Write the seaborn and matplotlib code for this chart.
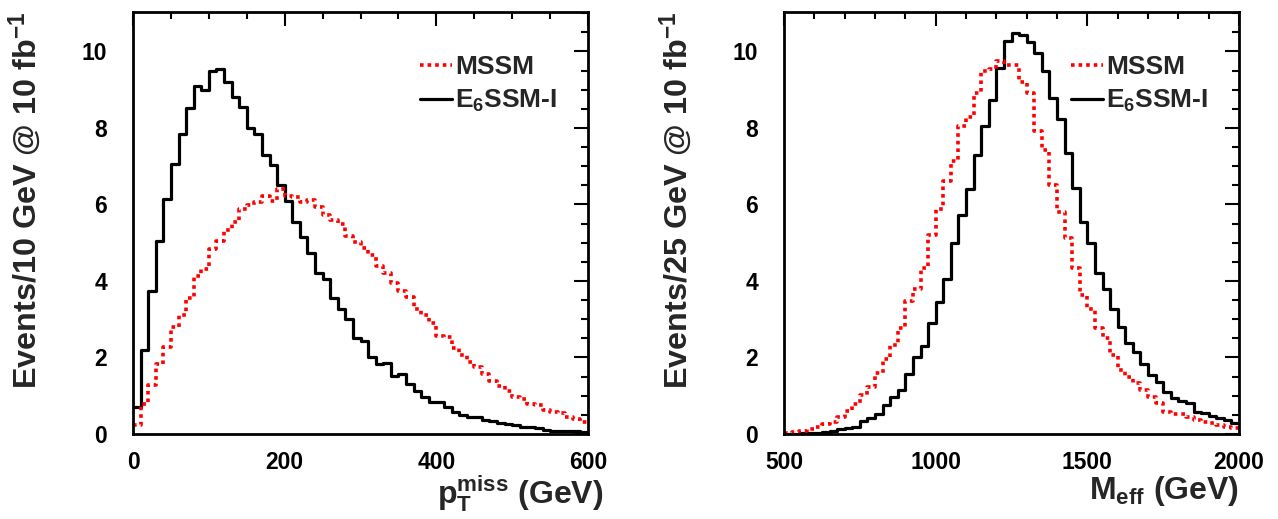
import numpy as np
import pandas as pd
import matplotlib
matplotlib.use("Agg")
import matplotlib.pyplot as plt
import seaborn as sns
from matplotlib.ticker import MultipleLocator

# ---------------- data ----------------
ptmiss_range = (0, 600)
ptmiss_binwidth = 10
ptmiss_e6ssm = [0.70, 2.20, 3.73, 5.05, 6.15, 7.07, 7.85, 8.52, 9.10, 8.98,
                9.49, 9.55, 9.20, 8.81, 8.56, 8.00, 7.85, 7.30, 7.03, 6.52,
                6.08, 5.53, 5.14, 4.72, 4.22, 4.04, 3.55, 3.26, 3.01, 2.50,
                2.43, 2.02, 1.83, 1.85, 1.52, 1.57, 1.31, 1.13, 0.96, 0.84,
                0.84, 0.71, 0.58, 0.50, 0.44, 0.45, 0.37, 0.33, 0.29, 0.26,
                0.23, 0.19, 0.17, 0.15, 0.10, 0.09, 0.08, 0.09, 0.08, 0.06]
ptmiss_mssm = [0.23, 0.78, 1.28, 1.82, 2.28, 2.79, 3.12, 3.56, 4.13, 4.31,
               4.83, 5.05, 5.33, 5.55, 5.89, 5.98, 6.07, 6.22, 6.08, 6.41,
               6.21, 6.20, 6.07, 6.11, 5.93, 5.72, 5.60, 5.48, 5.18, 5.02,
               4.85, 4.67, 4.39, 4.22, 3.95, 3.73, 3.58, 3.28, 3.11, 2.89,
               2.56, 2.54, 2.24, 2.06, 1.89, 1.76, 1.57, 1.38, 1.26, 1.13,
               0.97, 0.91, 0.78, 0.76, 0.63, 0.57, 0.54, 0.45, 0.39, 0.32]

meff_range = (500, 2000)
meff_binwidth = 25
meff_e6ssm = [0.01, 0.01, 0.02, 0.02, 0.03, 0.05, 0.08, 0.12, 0.15, 0.19,
              0.34, 0.41, 0.52, 0.77, 0.97, 1.15, 1.57, 2.02, 2.30, 2.91,
              3.46, 4.04, 4.99, 5.72, 6.40, 7.28, 8.05, 8.72, 9.56, 10.26,
              10.47, 10.42, 10.24, 9.96, 9.48, 8.77, 8.24, 7.35, 6.43, 5.54,
              5.00, 4.22, 3.79, 3.28, 2.80, 2.37, 2.15, 1.82, 1.54, 1.35,
              1.10, 0.93, 0.86, 0.80, 0.58, 0.54, 0.47, 0.41, 0.37, 0.30]
meff_mssm = [0.03, 0.06, 0.09, 0.12, 0.18, 0.25, 0.32, 0.45, 0.60, 0.78,
             1.02, 1.24, 1.60, 1.95, 2.32, 2.76, 3.47, 3.80, 4.34, 5.20,
             5.87, 6.61, 7.14, 8.04, 8.28, 8.92, 9.48, 9.55, 9.76, 9.65,
             9.65, 9.20, 8.91, 7.91, 7.43, 6.50, 5.80, 5.11, 4.33, 3.63,
             3.28, 2.76, 2.50, 2.06, 1.67, 1.50, 1.32, 1.15, 0.97, 0.80,
             0.58, 0.52, 0.51, 0.45, 0.37, 0.32, 0.30, 0.24, 0.19, 0.15]

labels = ["MSSM", "E$_{6}$SSM-I"]
ylabels = ["Events/10 GeV @ 10 fb$^{-1}$", "Events/25 GeV @ 10 fb$^{-1}$"]
xlabels = [r"$\mathbf{p_{T}^{miss}}$ (GeV)", r"$\mathbf{M_{eff}}$ (GeV)"]

# ---------------- style ----------------
sns.set_theme(style="white")
plt.rcParams["font.family"] = ["Liberation Sans", "DejaVu Sans"]
plt.rcParams["font.weight"] = "bold"
plt.rcParams["mathtext.fontset"] = "custom"
plt.rcParams["mathtext.rm"] = "Liberation Sans:bold"
plt.rcParams["mathtext.it"] = "Liberation Sans:bold"
plt.rcParams["mathtext.bf"] = "Liberation Sans:bold"
plt.rcParams["mathtext.default"] = "bf"

fig = plt.figure(figsize=(12.78, 5.19), dpi=100)
W, H = 1278, 519
ax_specs = [(133, 588), (784, 1239)]
top_px, bot_px = 12, 434

panels = [
    (ptmiss_range, ptmiss_binwidth, ptmiss_mssm, ptmiss_e6ssm, 200, 50, 1.033),
    (meff_range, meff_binwidth, meff_mssm, meff_e6ssm, 500, 100, 1.0),
]

for i, (xr, bw, mssm, e6, maj, mnr, xlab_x) in enumerate(panels):
    l, r = ax_specs[i]
    ax = fig.add_axes([l / W, (H - bot_px) / H, (r - l) / W, (bot_px - top_px) / H])
    n = len(e6)
    centers = xr[0] + bw * (np.arange(n) + 0.5)
    df = pd.DataFrame({"x": centers, "e6": e6, "mssm": mssm})
    sns.histplot(data=df, x="x", weights="e6", binwidth=bw, binrange=xr,
                 element="step", fill=False, color="black", linewidth=2.3,
                 ax=ax)
    sns.histplot(data=df, x="x", weights="mssm", binwidth=bw, binrange=xr,
                 element="step", fill=False, color="#ff0000", linewidth=2.6,
                 linestyle=(0, (1.0, 1.1)), ax=ax)
    lines = ax.get_lines()
    e6_line, mssm_line = lines[0], lines[1]
    leg = ax.legend(handles=[mssm_line, e6_line], labels=labels,
                    loc="upper left", bbox_to_anchor=(0.631, 0.897),
                    frameon=False, fontsize=19, handlelength=1.22,
                    handletextpad=0.12, labelspacing=0.33, borderaxespad=0,
                    borderpad=0)
    for t in leg.get_texts():
        t.set_fontweight("bold")

    ax.set_xlim(*xr)
    ax.set_ylim(0, 11.03)
    ax.xaxis.set_major_locator(MultipleLocator(maj))
    ax.xaxis.set_minor_locator(MultipleLocator(mnr))
    ax.yaxis.set_major_locator(MultipleLocator(2))
    ax.yaxis.set_minor_locator(MultipleLocator(0.5))
    ax.tick_params(which="both", direction="in", top=True, right=True,
                   labelsize=16.5, width=1.5, colors="black")
    ax.tick_params(which="major", length=10)
    ax.tick_params(which="minor", length=5)
    ax.tick_params(axis="x", which="major", pad=12)
    ax.tick_params(axis="y", which="major", pad=18.5)
    for lab in ax.get_xticklabels() + ax.get_yticklabels():
        lab.set_fontweight("bold")
    for sp in ax.spines.values():
        sp.set_linewidth(2)
        sp.set_color("black")
        sp.set_visible(True)
    ax.set_ylabel(ylabels[i], fontsize=23.3, fontweight="bold", loc="top",
                  labelpad=27)
    ax.set_xlabel(xlabels[i], fontsize=23, fontweight="bold",
                  x=xlab_x, horizontalalignment="right", labelpad=0)
    ax.grid(False)

fig.savefig("out.png", dpi=100)
